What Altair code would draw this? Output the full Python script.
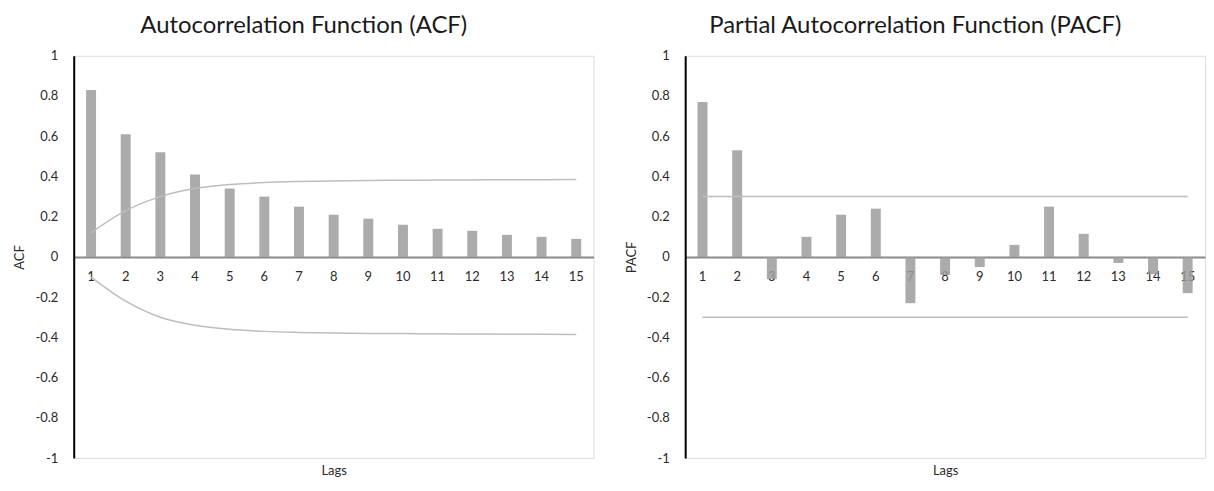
import altair as alt
import pandas as pd

lags = [1, 2, 3, 4, 5, 6, 7, 8, 9, 10, 11, 12, 13, 14, 15]
acf = [0.83, 0.61, 0.52, 0.41, 0.34, 0.30, 0.25, 0.21, 0.19, 0.16, 0.14, 0.13, 0.11, 0.10, 0.09]
acf_upper = [0.12, 0.23, 0.30, 0.34, 0.36, 0.37, 0.375, 0.378, 0.38, 0.381, 0.382, 0.383, 0.384, 0.384, 0.385]
acf_lower = [-0.10, -0.22, -0.30, -0.34, -0.36, -0.37, -0.375, -0.378, -0.38, -0.381, -0.382, -0.383, -0.384, -0.384, -0.385]
pacf = [0.77, 0.53, -0.11, 0.10, 0.21, 0.24, -0.23, -0.09, -0.05, 0.06, 0.25, 0.115, -0.03, -0.085, -0.18]
pacf_upper = [0.30, 0.30, 0.30, 0.30, 0.30, 0.30, 0.30, 0.30, 0.30, 0.30, 0.30, 0.30, 0.30, 0.30, 0.30]
pacf_lower = [-0.30, -0.30, -0.30, -0.30, -0.30, -0.30, -0.30, -0.30, -0.30, -0.30, -0.30, -0.30, -0.30, -0.30, -0.30]
y_ticks = [1, 0.8, 0.6, 0.4, 0.2, 0, -0.2, -0.4, -0.6, -0.8, -1]

FONT = "Lato"
W, H = 522, 404
BAR = "#9c9c9c"
LINE = "#bdbdbd"


def panel(title, ylab, values, upper, lower):
    df = pd.DataFrame({"lag": lags, "value": values, "upper": upper, "lower": lower})
    xscale = alt.Scale(paddingInner=0, paddingOuter=0)
    xaxis = alt.Axis(
        title="Lags", labelAngle=0, ticks=False, grid=False,
        domainColor="#8a8a8a", domainWidth=2, offset=-H / 2,
        labelPadding=14, labelFontSize=13, labelColor="#2a2a2a", labelFont=FONT,
        titleFontSize=13, titleFontWeight="normal", titleFont=FONT, titleColor="#2a2a2a",
        titleBaseline="middle", titleY=H / 2 + 12,
    )
    yaxis = alt.Axis(
        title=ylab, values=y_ticks, ticks=False, grid=False,
        domainColor="#000000", domainWidth=2,
        labelExpr="datum.value < 0 ? '-' + format(-datum.value, '~g') : format(datum.value, '~g')",
        labelPadding=16, labelFontSize=13, labelColor="#2a2a2a", labelFont=FONT,
        titleFontSize=13, titleFontWeight="normal", titleFont=FONT, titleColor="#2a2a2a",
        titlePadding=8,
    )
    yscale = alt.Scale(domain=[-1, 1], nice=False)
    base = alt.Chart(df)
    bars = base.mark_bar(color=BAR, size=10, opacity=0.85).encode(
        x=alt.X("lag:O", scale=xscale, axis=xaxis),
        y=alt.Y("value:Q", scale=yscale, axis=yaxis),
    )
    up = base.mark_line(color=LINE, strokeWidth=1.5, interpolate="monotone").encode(
        x="lag:O", y="upper:Q"
    )
    lo = base.mark_line(color=LINE, strokeWidth=1.5, interpolate="monotone").encode(
        x="lag:O", y="lower:Q"
    )
    return alt.layer(bars, up, lo).properties(
        width=W, height=H,
        title=alt.TitleParams(title, font=FONT, fontSize=24, fontWeight="normal",
                              color="#1a1a1a", anchor="middle", frame="bounds", offset=12),
    )


left = panel("Autocorrelation Function (ACF)", "ACF", acf, acf_upper, acf_lower)
right = panel("Partial Autocorrelation Function (PACF)", "PACF", pacf, pacf_upper, pacf_lower)

chart = alt.hconcat(left, right, spacing=30).properties(
    padding={"left": 5, "top": 4, "right": 0, "bottom": 0}
).configure_view(stroke=None).configure(background="white")

chart.save("out.html", embed_options={"renderer": "svg", "actions": False})
